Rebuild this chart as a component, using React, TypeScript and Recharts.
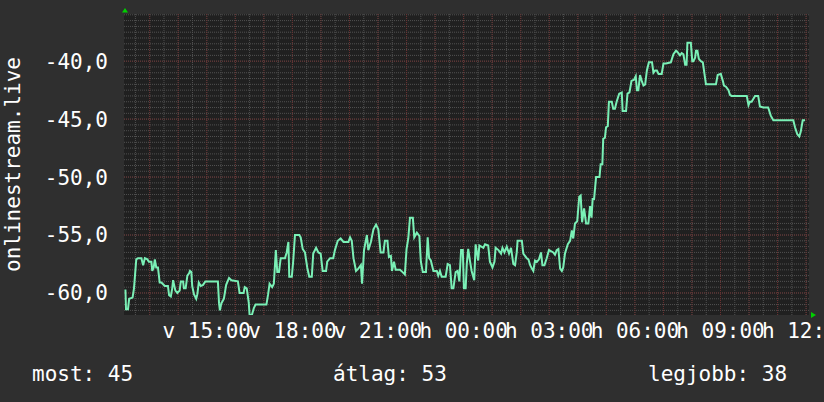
import React from 'react';
import { LineChart, Line, XAxis, YAxis, CartesianGrid, ReferenceDot } from 'recharts';

// [hour (since day-1 midnight), value]
const afternoon: [number, number][] = [
  [12.15,-59.7],[12.17,-61.4],[12.24,-61.4],[12.28,-60.5],[12.40,-60.4],[12.45,-59.6],[12.53,-57.1],[12.59,-57.0],[12.71,-57.0],[12.77,-57.6],[12.83,-57.0],[12.92,-57.1],[12.97,-57.3],[13.06,-57.3],[13.09,-58.1],[13.14,-57.8],[13.18,-57.1],[13.23,-57.8],[13.29,-57.8],[13.35,-59.1],[13.41,-59.1],[13.53,-59.4],[13.64,-59.4],[13.68,-60.2],[13.74,-60.3],[13.79,-59.6],[13.82,-58.9],[13.90,-59.8],[13.97,-60.0],[14.05,-59.8],[14.09,-59.0],[14.17,-59.0],[14.20,-59.6],[14.26,-59.6],[14.32,-58.5],[14.38,-58.3],[14.41,-58.1],[14.46,-58.2],[14.49,-59.4],[14.55,-60.1],[14.63,-60.5],[14.67,-60.1],[14.72,-59.1],[14.79,-59.4],[14.87,-59.3],[14.95,-59.0],[15.39,-59.0],[15.43,-60.9],[15.46,-61.5],[15.51,-60.9],[15.60,-60.5],[15.68,-59.3],[15.78,-58.7],[15.86,-58.9],[16.09,-59.0],[16.15,-60.0],[16.29,-60.0],[16.33,-59.5],[16.40,-59.6],[16.47,-60.8],[16.50,-61.9],[16.58,-61.9],[16.65,-61.3],[16.71,-61.0],[17.09,-61.0],[17.15,-60.1],[17.20,-59.2],[17.29,-59.5],[17.35,-59.2],
];
const evening: [number, number][] = [
  [17.42,-56.3],[17.47,-58.2],[17.53,-58.2],[17.59,-57.0],[17.74,-57.0],[17.80,-56.5],[17.86,-55.6],[17.89,-58.6],[17.98,-58.6],[18.03,-57.2],[18.09,-55.0],[18.24,-55.0],[18.29,-55.2],[18.36,-56.2],[18.44,-56.5],[18.52,-57.8],[18.59,-58.6],[18.68,-58.6],[18.73,-56.6],[18.83,-56.1],[18.91,-56.5],[18.99,-56.6],[19.06,-58.1],[19.18,-58.1],[19.22,-57.3],[19.32,-57.0],[19.43,-57.0],[19.49,-56.3],[19.59,-55.5],[19.69,-55.3],[19.79,-55.6],[19.96,-55.6],[20.02,-55.2],[20.08,-55.5],[20.14,-57.0],[20.23,-58.1],[20.31,-57.9],[20.40,-57.6],[20.44,-59.2],[20.51,-56.3],[20.61,-55.0],[20.66,-56.3],[20.75,-55.6],[20.84,-54.5],[20.93,-54.1],[21.01,-54.5],[21.09,-56.5],[21.19,-56.5],[21.24,-55.5],[21.33,-55.5],[21.38,-56.9],[21.45,-56.8],[21.49,-58.1],[21.56,-57.3],[21.62,-58.0],[21.77,-58.0],[21.86,-58.2],[21.94,-58.4],[22.00,-56.2],[22.06,-55.3],[22.12,-53.5],[22.22,-53.5],[22.27,-55.2],[22.36,-54.8],[22.45,-55.1],[22.50,-57.3],[22.57,-58.2],[22.68,-58.2],[22.74,-55.2],[22.79,-57.0],[22.85,-57.2],[22.94,-58.1],[23.06,-58.1],[23.11,-58.5],[23.17,-58.1],[23.23,-58.6],[23.37,-58.6],[23.44,-57.5],[23.52,-57.6],[23.58,-59.6],[23.64,-59.6],[23.72,-58.2],[23.79,-58.1],[23.85,-59.0],[23.91,-56.3],[23.97,-56.3],
];
const night: [number, number][] = [
  [24.01,-59.6],[24.07,-59.6],[24.11,-57.5],[24.16,-56.2],[24.22,-57.2],[24.28,-58.1],[24.37,-58.9],[24.42,-55.8],[24.51,-57.2],[24.55,-55.9],[24.69,-56.1],[24.75,-55.8],[24.86,-55.9],[24.92,-57.3],[25.01,-57.8],[25.08,-57.3],[25.12,-56.1],[25.22,-56.3],[25.31,-56.6],[25.36,-56.1],[25.43,-56.5],[25.51,-56.0],[25.59,-56.6],[25.66,-56.1],[25.74,-57.5],[25.80,-57.6],[25.86,-56.5],[25.89,-55.5],[26.04,-55.5],[26.09,-56.6],[26.21,-57.0],[26.27,-57.1],[26.33,-57.6],[26.39,-57.9],[26.44,-58.1],[26.50,-57.2],[26.57,-57.3],[26.64,-57.1],[26.71,-56.5],[26.76,-57.6],[26.83,-57.6],[26.91,-57.0],[26.99,-56.3],[27.14,-56.5],[27.20,-56.7],[27.26,-56.3],[27.32,-56.2],[27.38,-57.9],[27.44,-58.1],[27.49,-57.8],[27.55,-56.6],[27.65,-55.8],[27.73,-55.5],[27.79,-54.6],[27.84,-55.3],[27.90,-54.0],[27.98,-53.8],
];
const morning: [number, number][] = [
  [28.05,-51.7],[28.10,-51.6],[28.15,-53.9],[28.22,-52.7],[28.29,-54.0],[28.37,-54.0],[28.43,-52.5],[28.48,-53.5],[28.52,-51.9],[28.57,-51.9],[28.64,-50.0],[28.76,-50.0],[28.80,-48.9],[28.86,-48.9],[28.89,-46.7],[28.95,-46.6],[28.99,-45.7],[29.05,-45.6],[29.09,-43.5],[29.19,-43.5],[29.24,-44.1],[29.30,-44.1],[29.36,-43.5],[29.45,-42.8],[29.54,-42.7],[29.57,-44.3],[29.69,-44.3],[29.74,-42.8],[29.81,-42.7],[29.88,-41.7],[29.97,-41.6],[30.03,-41.3],[30.07,-42.5],[30.12,-42.5],[30.18,-41.2],[30.24,-41.7],[30.30,-42.1],[30.36,-42.0],[30.42,-40.8],[30.49,-40.1],[30.60,-40.1],[30.65,-41.0],[30.71,-40.8],[30.77,-40.8],[30.83,-41.1],[30.94,-41.1],[31.00,-40.2],[31.09,-40.2],[31.26,-40.1],[31.35,-39.4],[31.44,-39.1],[31.49,-39.2],[31.58,-39.5],[31.64,-39.3],[31.70,-39.4],[31.76,-40.3],[31.81,-40.3],[31.84,-38.4],[31.96,-38.4],[32.01,-40.0],[32.05,-40.0],[32.11,-39.7],[32.14,-39.1],[32.19,-39.1],[32.24,-39.8],[32.31,-40.0],[32.38,-40.1],[32.42,-40.8],[32.49,-42.0],[32.84,-42.0],[32.90,-41.2],[33.01,-41.1],[33.08,-41.7],[33.12,-42.1],[33.19,-42.2],[33.28,-42.5],[33.33,-42.9],[33.39,-43.0],[33.92,-43.0],[33.98,-43.8],[34.03,-43.5],[34.09,-43.5],[34.21,-43.0],[34.32,-43.0],[34.38,-43.9],[34.50,-44.0],[34.67,-44.0],[34.76,-44.7],[34.85,-45.1],[35.55,-45.1],[35.61,-45.7],[35.69,-46.3],[35.76,-46.5],[35.81,-46.1],[35.88,-45.1],[35.96,-45.1],
];

const xTicks = [15, 18, 21, 24, 27, 30, 33, 36];
const yTicks = [-60, -55, -50, -45, -40];
const xDomain: [number, number] = [12.1, 36.1];
const yDomain: [number, number] = [-61.9, -35.93];
const yAxisTitle = 'onlinestream.live';
const legendLabels = ['most', 'átlag', 'legjobb'];
const legendValues = [45, 53, 38];

const data = [...afternoon, ...evening, ...night, ...morning].map(([t, v]) => ({ t, v }));

const minorX: number[] = [];
for (let h = 12.5; h <= 36.01; h += 0.5) minorX.push(h);
const majorX: number[] = [];
for (let h = 13; h <= 36; h += 1) majorX.push(h);
const minorY: number[] = [];
for (let v = -61.5; v <= -35.99; v += 0.5) minorY.push(v);
const majorY = yTicks;

const FONT = 'DejaVu Sans Mono, monospace';
const pad = (n: number) => (n < 10 ? '0' + n : '' + n);
const fmtX = (h: number) => (h < 24 ? 'v ' : 'h ') + pad(Math.round(h) % 24) + ':00';
const fmtY = (v: number) => v.toFixed(1).replace('.', ',');

const UpArrow = (p: any) => (
  <polygon points={`${p.cx + 1},${p.cy - 6} ${p.cx - 2},${p.cy - 1.5} ${p.cx + 4},${p.cy - 1.5}`} fill="#00d000" />
);
const RightArrow = (p: any) => (
  <polygon points={`${p.cx + 2},${p.cy - 3} ${p.cx + 2},${p.cy + 3} ${p.cx + 7},${p.cy}`} fill="#00d000" />
);

const legendX = [32, 333, 648];

export default function App() {
  return (
    <div style={{ position: 'relative', width: 824, height: 402, background: '#2f2f2f' }}>
      <style>{`body{margin:0;background:#2f2f2f}`}</style>
      <LineChart width={824} height={402} data={data} margin={{ top: 14, right: 15, bottom: 57, left: 0 }}>
        <CartesianGrid fill="#202020" stroke="#505050" strokeDasharray="1 1" horizontalValues={minorY} verticalValues={minorX} />
        <CartesianGrid fill="none" stroke="#6a3030" strokeDasharray="1 1" horizontalValues={majorY} verticalValues={majorX} />
        <XAxis
          dataKey="t"
          type="number"
          domain={xDomain}
          ticks={xTicks}
          interval={0}
          tickFormatter={fmtX}
          axisLine={false}
          tickLine={false}
          tickSize={0}
          tickMargin={8}
          height={30}
          allowDataOverflow
          tick={{ fill: '#ffffff', fontSize: 21, fontFamily: FONT }}
        />
        <YAxis
          type="number"
          domain={yDomain}
          ticks={yTicks}
          interval={0}
          tickFormatter={fmtY}
          width={124}
          axisLine={false}
          tickLine={false}
          tickSize={0}
          tickMargin={16}
          allowDataOverflow
          tick={{ fill: '#ffffff', fontSize: 21, fontFamily: FONT }}
        />
        <Line type="linear" dataKey="v" stroke="#7af0b6" strokeWidth={2} dot={false} isAnimationActive={false} />
        <ReferenceDot x={xDomain[0]} y={yDomain[1]} r={0} shape={UpArrow} ifOverflow="visible" />
        <ReferenceDot x={xDomain[1]} y={yDomain[0]} r={0} shape={RightArrow} ifOverflow="visible" />
      </LineChart>
      <svg width={824} height={402} style={{ position: 'absolute', left: 0, top: 0, pointerEvents: 'none' }}>
        <text
          x={20}
          y={164.5}
          transform="rotate(-90 20 164.5)"
          textAnchor="middle"
          fill="#ffffff"
          fontSize={21}
          fontFamily={FONT}
        >
          {yAxisTitle}
        </text>
        {legendLabels.map((l, i) => (
          <text key={l} x={legendX[i]} y={381} fill="#ffffff" fontSize={21} fontFamily={FONT}>
            {`${l}: ${legendValues[i]}`}
          </text>
        ))}
      </svg>
    </div>
  );
}
